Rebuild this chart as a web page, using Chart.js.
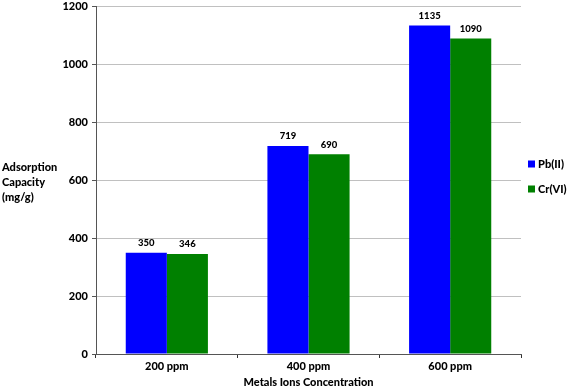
<!DOCTYPE html>
<html>
<head>
<meta charset="utf-8">
<script src="https://cdn.jsdelivr.net/npm/chart.js@4"></script>
<style>
  html, body { margin: 0; padding: 0; background: #fff; }
  #wrap { width: 567px; height: 388px; }
</style>
</head>
<body>
<div id="wrap"><canvas id="chart" width="567" height="388"></canvas></div>
<script>
'use strict';

const categories = ['200 ppm', '400 ppm', '600 ppm'];
const pbValues = [350, 719, 1135];
const crValues = [346, 690, 1090];
const seriesNames = ['Pb(II)', 'Cr(VI)'];
const seriesColors = ['#0000ff', '#008000'];
const yTitleLines = ['Adsorption', 'Capacity', '(mg/g)'];
const xTitle = 'Metals Ions Concentration';

const FONT = 'Lato, "Open Sans", sans-serif';
const WEIGHT = '900';

// value labels above each bar
const valueLabels = {
    id: 'valueLabels',
    afterDatasetsDraw(chart) {
        const ctx = chart.ctx;
        ctx.save();
        ctx.font = WEIGHT + ' 9.5px ' + FONT;
        ctx.fillStyle = '#000';
        ctx.textAlign = 'center';
        ctx.textBaseline = 'bottom';
        chart.data.datasets.forEach((ds, i) => {
            chart.getDatasetMeta(i).data.forEach((bar, j) => {
                ctx.fillText(String(ds.data[j]), bar.x, bar.y - 5);
            });
        });
        ctx.restore();
    }
};

// horizontal y axis title on the left + legend on the right
const sideTexts = {
    id: 'sideTexts',
    afterDraw(chart) {
        const ctx = chart.ctx;
        const area = chart.chartArea;
        ctx.save();
        ctx.font = WEIGHT + ' 11px ' + FONT;
        ctx.fillStyle = '#000';
        ctx.textAlign = 'left';
        ctx.textBaseline = 'middle';
        const mid = (area.top + area.bottom) / 2 + 2;
        yTitleLines.forEach((line, i) => {
            ctx.fillText(line, 2, mid + (i - 1) * 15);
        });

        // legend
        chart.data.datasets.forEach((ds, i) => {
            const y = 164 + i * 25;
            ctx.fillStyle = ds.backgroundColor;
            ctx.fillRect(528, y - 3.5, 7, 7);
            ctx.fillStyle = '#000';
            ctx.fillText(ds.label, 538, y);
        });
        ctx.restore();
    }
};

new Chart(document.getElementById('chart'), {
    type: 'bar',
    data: {
        labels: categories,
        datasets: [
            { label: seriesNames[0], data: pbValues, backgroundColor: seriesColors[0] },
            { label: seriesNames[1], data: crValues, backgroundColor: seriesColors[1] }
        ]
    },
    options: {
        responsive: false,
        animation: false,
        devicePixelRatio: 1,
        categoryPercentage: 0.58,
        barPercentage: 1.0,
        layout: { padding: { top: 0, right: 46, bottom: 0, left: 0 } },
        plugins: {
            legend: { display: false },
            tooltip: { enabled: false }
        },
        scales: {
            x: {
                grid: {
                    offset: true,
                    drawOnChartArea: false,
                    tickLength: 4,
                    tickColor: '#333'
                },
                border: { color: '#555', width: 1 },
                ticks: {
                    color: '#000',
                    padding: 3,
                    font: { family: FONT, size: 11, weight: WEIGHT, lineHeight: 1.0 }
                },
                title: {
                    display: true,
                    text: xTitle,
                    color: '#000',
                    padding: { top: 2, bottom: 0 },
                    font: { family: FONT, size: 11, weight: WEIGHT, lineHeight: 1.0 }
                }
            },
            y: {
                min: 0,
                max: 1200,
                afterFit(scale) { scale.width = 96; },
                grid: {
                    color: '#c0c0c0',
                    tickColor: '#555',
                    tickLength: 4
                },
                border: { color: '#555', width: 1 },
                ticks: {
                    stepSize: 200,
                    color: '#000',
                    padding: 4,
                    callback: (v) => String(v),
                    font: { family: FONT, size: 11, weight: WEIGHT, lineHeight: 0.5 }
                }
            }
        }
    },
    plugins: [valueLabels, sideTexts]
});
</script>
</body>
</html>
